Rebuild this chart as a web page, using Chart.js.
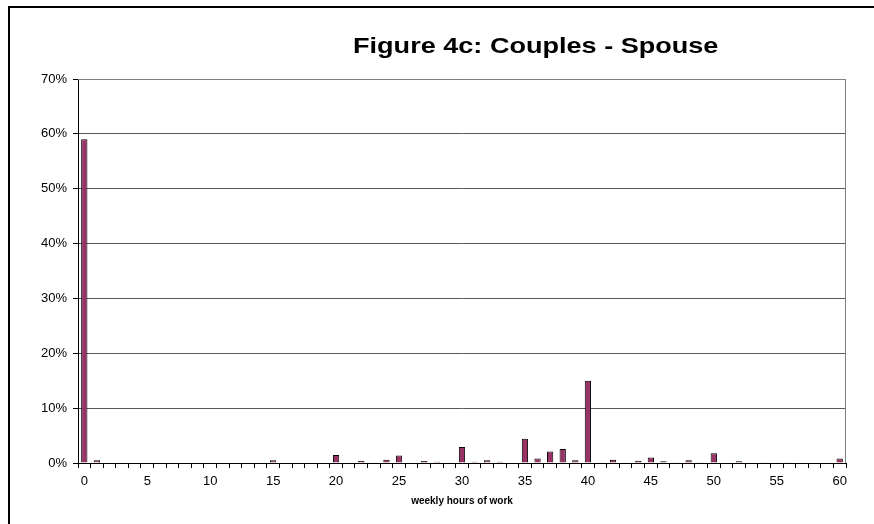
<!DOCTYPE html>
<html>
<head>
<meta charset="utf-8">
<script src="https://cdn.jsdelivr.net/npm/chart.js@4.4.1/dist/chart.umd.min.js"></script>
<style>
  html, body { margin: 0; padding: 0; background: #fff; overflow: hidden; }
  #wrap { position: relative; width: 874px; height: 524px; }
  #frame { position: absolute; left: 8px; top: 6px; width: 900px; height: 560px;
           border-left: 2px solid #000; border-top: 2px solid #000; }
  #c { position: absolute; left: 0; top: 0; }
</style>
</head>
<body>
<div id="wrap">
  <div id="frame"></div>
  <canvas id="c" width="874" height="524"></canvas>
</div>
<script>
// weekly hours of work, 0..60
const hours = [];
for (let h = 0; h <= 60; h++) hours.push(h);

// share of spouses in couples working each number of hours (%)
const spouseShare = [
  59.0, 0.5, 0.1, 0, 0, 0, 0, 0, 0, 0,
  0, 0, 0, 0, 0, 0.5, 0, 0, 0, 0,
  1.45, 0, 0.4, 0.15, 0.6, 1.35, 0, 0.35, 0.25, 0.15,
  2.9, 0.25, 0.5, 0.25, 0, 4.4, 0.8, 2.1, 2.55, 0.5,
  15.0, 0.15, 0.6, 0.15, 0.4, 1.0, 0.3, 0.15, 0.5, 0.15,
  1.8, 0, 0.3, 0, 0.15, 0.15, 0.15, 0, 0, 0,
  0.8
];

const yTicks = [0, 10, 20, 30, 40, 50, 60, 70];
const chartTitle = 'Figure 4c: Couples - Spouse';
const xTitle = 'weekly hours of work';
const FONT = '"Liberation Sans", Arial, sans-serif';

// grey box round the plot area + title set off to the right (drawn a bit wide)
const plotFrame = {
  id: 'plotFrame',
  afterDraw(chart) {
    const a = chart.chartArea, ctx = chart.ctx;
    ctx.save();
    ctx.strokeStyle = '#808080';
    ctx.lineWidth = 1;
    ctx.beginPath();
    ctx.moveTo(a.left, a.top + 0.5);
    ctx.lineTo(a.right - 0.5, a.top + 0.5);
    ctx.lineTo(a.right - 0.5, a.bottom);
    ctx.stroke();
    ctx.fillStyle = '#000';
    ctx.font = 'bold 22px ' + FONT;
    ctx.textAlign = 'center';
    ctx.textBaseline = 'middle';
    ctx.translate(a.left + (a.right - a.left) * 0.596, 47);
    ctx.scale(1.23, 1);
    ctx.fillText(chartTitle, 0, 0);
    ctx.restore();
  }
};

new Chart(document.getElementById('c'), {
  type: 'bar',
  data: {
    labels: hours,
    datasets: [{
      data: spouseShare,
      backgroundColor: '#993366',
      borderColor: '#000',
      borderWidth: 1,
      borderSkipped: 'bottom',
      categoryPercentage: 0.5,
      barPercentage: 1.0
    }]
  },
  options: {
    responsive: false,
    animation: false,
    layout: { padding: { top: 79, right: 28, left: 0, bottom: 0 } },
    plugins: { legend: { display: false }, tooltip: { enabled: false }, title: { display: false } },
    scales: {
      x: {
        afterFit(s) { s.height = 61; },
        border: { color: '#000', width: 1 },
        grid: { offset: true, drawOnChartArea: false, drawTicks: true, tickLength: 5, color: '#000' },
        ticks: {
          autoSkip: false, maxRotation: 0, padding: 6, color: '#000',
          font: { family: FONT, size: 13 },
          callback(v, i) { return hours[i] % 5 === 0 ? String(hours[i]) : ''; }
        },
        title: {
          display: true, text: xTitle, color: '#000',
          font: { family: FONT, size: 10, weight: 'bold' },
          padding: { top: 4, bottom: 17 }
        }
      },
      y: {
        min: 0, max: 70,
        afterFit(s) { s.width = 78; },
        afterBuildTicks(s) { s.ticks = yTicks.map(v => ({ value: v })); },
        border: { color: '#000', width: 1 },
        grid: { color: '#5a5a5a', drawTicks: true, tickLength: 5, tickColor: '#000' },
        ticks: {
          padding: 6, color: '#000',
          font: { family: FONT, size: 13 },
          callback(v) { return v + '%'; }
        }
      }
    }
  },
  plugins: [plotFrame]
});
</script>
</body>
</html>
